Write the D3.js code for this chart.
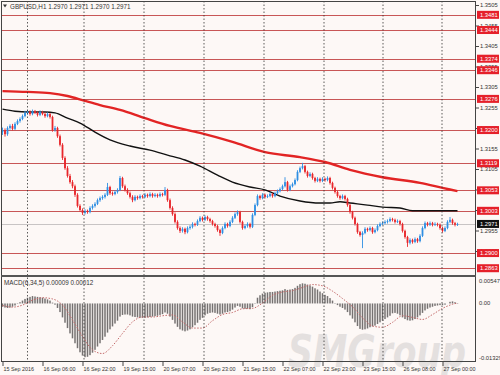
<!DOCTYPE html>
<html>
<head>
<meta charset="utf-8">
<script src="https://cdn.jsdelivr.net/npm/d3@7/dist/d3.min.js"></script>
<style>
body { margin: 0; background: #fff; }
svg { display: block; font-family: 'Liberation Sans', 'DejaVu Sans', sans-serif; }
</style>
</head>
<body>
<svg id="chart" width="500" height="375"></svg>
<script>
var symbolText = 'GBPUSD,H1  1.2970 1.2971 1.2970 1.2971';
var macdText = 'MACD(6,34,5) 0.00009 0.00012';

// H1 bars, [open, high, low, close]
var candles = [
  [1.3195,1.3206,1.3188,1.3200],[1.3200,1.3204,1.3184,1.3190],[1.3190,1.3209,1.3186,1.3205],[1.3205,1.3214,1.3201,1.3210],
  [1.3210,1.3215,1.3199,1.3203],[1.3203,1.3219,1.3200,1.3215],[1.3215,1.3226,1.3212,1.3222],[1.3222,1.3231,1.3218,1.3227],
  [1.3227,1.3238,1.3224,1.3234],[1.3234,1.3247,1.3231,1.3242],[1.3242,1.3249,1.3238,1.3244],[1.3244,1.3248,1.3235,1.3239],
  [1.3239,1.3250,1.3236,1.3246],[1.3246,1.3249,1.3239,1.3242],[1.3242,1.3245,1.3233,1.3237],[1.3237,1.3248,1.3234,1.3244],
  [1.3244,1.3247,1.3236,1.3239],[1.3239,1.3243,1.3230,1.3234],[1.3234,1.3243,1.3231,1.3239],[1.3239,1.3242,1.3228,1.3232],
  [1.3232,1.3235,1.3196,1.3200],[1.3200,1.3210,1.3196,1.3205],[1.3205,1.3208,1.3181,1.3185],[1.3185,1.3189,1.3160,1.3164],
  [1.3164,1.3168,1.3127,1.3132],[1.3132,1.3136,1.3103,1.3107],[1.3107,1.3112,1.3084,1.3088],[1.3088,1.3093,1.3069,1.3073],
  [1.3073,1.3078,1.3058,1.3063],[1.3063,1.3067,1.3037,1.3042],[1.3042,1.3046,1.3011,1.3015],[1.3015,1.3019,1.3001,1.3005],
  [1.3005,1.3009,1.2993,1.2998],[1.2998,1.3007,1.2994,1.3003],[1.3003,1.3006,1.2996,1.3000],[1.3000,1.3014,1.2997,1.3010],
  [1.3010,1.3019,1.3006,1.3015],[1.3015,1.3024,1.3011,1.3020],[1.3020,1.3033,1.3017,1.3029],[1.3029,1.3038,1.3025,1.3034],
  [1.3034,1.3041,1.3030,1.3037],[1.3037,1.3046,1.3033,1.3042],[1.3042,1.3071,1.3039,1.3061],[1.3061,1.3064,1.3042,1.3046],
  [1.3046,1.3050,1.3040,1.3044],[1.3044,1.3053,1.3041,1.3049],[1.3049,1.3058,1.3045,1.3054],[1.3054,1.3088,1.3051,1.3083],
  [1.3083,1.3086,1.3059,1.3063],[1.3063,1.3067,1.3050,1.3054],[1.3054,1.3058,1.3042,1.3046],[1.3046,1.3050,1.3033,1.3037],
  [1.3037,1.3041,1.3024,1.3029],[1.3029,1.3041,1.3026,1.3037],[1.3037,1.3040,1.3030,1.3034],[1.3034,1.3043,1.3031,1.3039],
  [1.3039,1.3042,1.3033,1.3037],[1.3037,1.3046,1.3034,1.3042],[1.3042,1.3045,1.3035,1.3039],[1.3039,1.3048,1.3036,1.3044],
  [1.3044,1.3047,1.3035,1.3039],[1.3039,1.3046,1.3036,1.3042],[1.3042,1.3045,1.3035,1.3039],[1.3039,1.3048,1.3036,1.3044],
  [1.3044,1.3047,1.3038,1.3042],[1.3042,1.3061,1.3039,1.3054],[1.3054,1.3057,1.3025,1.3029],[1.3029,1.3033,1.3006,1.3010],
  [1.3010,1.3014,1.2991,1.2995],[1.2995,1.2999,1.2972,1.2976],[1.2976,1.2980,1.2957,1.2961],[1.2961,1.2965,1.2949,1.2954],
  [1.2954,1.2963,1.2950,1.2959],[1.2959,1.2962,1.2946,1.2951],[1.2951,1.2965,1.2948,1.2961],[1.2961,1.2968,1.2957,1.2964],
  [1.2964,1.2975,1.2960,1.2971],[1.2971,1.2974,1.2965,1.2969],[1.2969,1.2982,1.2966,1.2978],[1.2978,1.2990,1.2975,1.2986],
  [1.2986,1.2989,1.2977,1.2981],[1.2981,1.2992,1.2978,1.2988],[1.2988,1.2991,1.2979,1.2983],[1.2983,1.2986,1.2974,1.2978],
  [1.2978,1.2981,1.2967,1.2971],[1.2971,1.2974,1.2962,1.2966],[1.2966,1.2969,1.2952,1.2956],[1.2956,1.2959,1.2942,1.2949],
  [1.2949,1.2965,1.2946,1.2961],[1.2961,1.2975,1.2958,1.2971],[1.2971,1.2974,1.2962,1.2966],[1.2966,1.2980,1.2963,1.2976],
  [1.2976,1.2990,1.2973,1.2986],[1.2986,1.2999,1.2983,1.2995],[1.2995,1.3004,1.2991,1.3000],[1.3000,1.3003,1.2972,1.2976],
  [1.2976,1.2979,1.2957,1.2961],[1.2961,1.2970,1.2958,1.2966],[1.2966,1.2975,1.2962,1.2971],[1.2971,1.2974,1.2960,1.2964],
  [1.2964,1.2997,1.2961,1.2993],[1.2993,1.3021,1.2990,1.3017],[1.3017,1.3043,1.3014,1.3039],[1.3039,1.3042,1.3030,1.3034],
  [1.3034,1.3046,1.3031,1.3042],[1.3042,1.3045,1.3033,1.3037],[1.3037,1.3043,1.3034,1.3039],[1.3039,1.3048,1.3036,1.3044],
  [1.3044,1.3047,1.3035,1.3039],[1.3039,1.3050,1.3036,1.3046],[1.3046,1.3055,1.3043,1.3051],[1.3051,1.3060,1.3048,1.3056],
  [1.3056,1.3067,1.3053,1.3063],[1.3063,1.3085,1.3060,1.3073],[1.3073,1.3076,1.3050,1.3054],[1.3054,1.3067,1.3051,1.3063],
  [1.3063,1.3072,1.3060,1.3068],[1.3068,1.3082,1.3065,1.3078],[1.3078,1.3102,1.3075,1.3098],[1.3098,1.3111,1.3095,1.3107],
  [1.3107,1.3120,1.3104,1.3112],[1.3112,1.3115,1.3094,1.3098],[1.3098,1.3101,1.3084,1.3088],[1.3088,1.3097,1.3085,1.3093],
  [1.3093,1.3096,1.3079,1.3083],[1.3083,1.3086,1.3072,1.3076],[1.3076,1.3085,1.3073,1.3081],[1.3081,1.3084,1.3072,1.3076],
  [1.3076,1.3085,1.3073,1.3081],[1.3081,1.3084,1.3074,1.3078],[1.3078,1.3087,1.3075,1.3083],[1.3083,1.3086,1.3067,1.3071],
  [1.3071,1.3074,1.3055,1.3059],[1.3059,1.3062,1.3045,1.3049],[1.3049,1.3052,1.3035,1.3039],[1.3039,1.3042,1.3030,1.3034],
  [1.3034,1.3043,1.3031,1.3039],[1.3039,1.3042,1.3028,1.3032],[1.3032,1.3035,1.3013,1.3017],[1.3017,1.3020,1.2996,1.3000],
  [1.3000,1.3003,1.2982,1.2986],[1.2986,1.2989,1.2967,1.2971],[1.2971,1.2974,1.2947,1.2951],[1.2951,1.2954,1.2940,1.2944],
  [1.2944,1.2953,1.2912,1.2949],[1.2949,1.2963,1.2946,1.2959],[1.2959,1.2962,1.2952,1.2956],[1.2956,1.2965,1.2953,1.2961],
  [1.2961,1.2964,1.2947,1.2951],[1.2951,1.2960,1.2948,1.2956],[1.2956,1.2970,1.2953,1.2966],[1.2966,1.2975,1.2963,1.2971],
  [1.2971,1.2977,1.2968,1.2973],[1.2973,1.2980,1.2970,1.2976],[1.2976,1.2982,1.2972,1.2978],[1.2978,1.2987,1.2975,1.2983],
  [1.2983,1.2986,1.2977,1.2981],[1.2981,1.2984,1.2972,1.2976],[1.2976,1.2982,1.2973,1.2978],[1.2978,1.2981,1.2967,1.2971],
  [1.2971,1.2974,1.2950,1.2954],[1.2954,1.2957,1.2935,1.2939],[1.2939,1.2942,1.2915,1.2925],[1.2925,1.2936,1.2921,1.2932],
  [1.2932,1.2935,1.2923,1.2927],[1.2927,1.2938,1.2924,1.2934],[1.2934,1.2937,1.2925,1.2929],[1.2929,1.2946,1.2926,1.2942],
  [1.2942,1.2965,1.2939,1.2961],[1.2961,1.2977,1.2958,1.2973],[1.2973,1.2976,1.2965,1.2969],[1.2969,1.2977,1.2966,1.2973],
  [1.2973,1.2976,1.2965,1.2969],[1.2969,1.2975,1.2966,1.2971],[1.2971,1.2974,1.2965,1.2969],[1.2969,1.2972,1.2957,1.2961],
  [1.2961,1.2964,1.2950,1.2954],[1.2954,1.2965,1.2951,1.2961],[1.2961,1.2980,1.2958,1.2976],[1.2976,1.2988,1.2973,1.2981],
  [1.2981,1.2984,1.2969,1.2973],[1.2973,1.2976,1.2965,1.2969],[1.2969,1.2974,1.2966,1.2971]
];

var macdHist = [
  -0.0008,-0.0010,-0.0011,-0.0010,-0.0008,-0.0005,-0.0001,0.0003,0.0007,0.0011,
  0.0014,0.0016,0.0018,0.0017,0.0016,0.0015,0.0014,0.0012,0.0010,0.0007,
  0.0002,-0.0003,-0.0011,-0.0021,-0.0034,-0.0047,-0.0060,-0.0073,-0.0085,-0.0097,
  -0.0109,-0.0119,-0.0127,-0.0131,-0.0130,-0.0126,-0.0120,-0.0113,-0.0105,-0.0097,
  -0.0089,-0.0081,-0.0071,-0.0063,-0.0056,-0.0049,-0.0042,-0.0032,-0.0028,-0.0027,
  -0.0027,-0.0029,-0.0032,-0.0033,-0.0034,-0.0035,-0.0035,-0.0035,-0.0034,-0.0033,
  -0.0032,-0.0031,-0.0030,-0.0028,-0.0026,-0.0022,-0.0025,-0.0032,-0.0040,-0.0049,
  -0.0057,-0.0063,-0.0066,-0.0068,-0.0066,-0.0063,-0.0058,-0.0053,-0.0047,-0.0040,
  -0.0035,-0.0029,-0.0025,-0.0023,-0.0022,-0.0023,-0.0025,-0.0027,-0.0025,-0.0022,
  -0.0021,-0.0019,-0.0015,-0.0010,-0.0006,-0.0008,-0.0012,-0.0013,-0.0013,-0.0014,
  -0.0009,0.0001,0.0014,0.0020,0.0024,0.0026,0.0027,0.0028,0.0028,0.0029,
  0.0030,0.0031,0.0032,0.0035,0.0033,0.0034,0.0035,0.0038,0.0043,0.0047,
  0.0049,0.0048,0.0046,0.0044,0.0041,0.0037,0.0034,0.0029,0.0025,0.0021,
  0.0018,0.0013,0.0007,0.0001,-0.0004,-0.0008,-0.0011,-0.0015,-0.0021,-0.0029,
  -0.0037,-0.0046,-0.0055,-0.0062,-0.0064,-0.0063,-0.0061,-0.0058,-0.0056,-0.0054,
  -0.0050,-0.0046,-0.0042,-0.0038,-0.0034,-0.0030,-0.0024,-0.0023,-0.0025,-0.0029,
  -0.0034,-0.0038,-0.0041,-0.0042,-0.0041,-0.0038,-0.0034,-0.0029,-0.0023,-0.0017,
  -0.0013,-0.0010,-0.0008,-0.0006,-0.0005,-0.0004,-0.0004,-0.0003,0.0000,0.0004,
  0.0005,0.0003,0.0001
];

// signal line read at sample bars [bar, value]
var macdSignal = [
  [0,-0.0005],[4,-0.0009],[8,-0.0004],[12,0.0008],[16,0.0014],[20,0.0011],[24,-0.0004],
  [28,-0.0040],[32,-0.0080],[36,-0.0113],[40,-0.0122],[44,-0.0103],[48,-0.0073],[52,-0.0045],
  [56,-0.0033],[60,-0.0033],[64,-0.0030],[68,-0.0028],[72,-0.0045],[76,-0.0060],[80,-0.0060],
  [84,-0.0042],[88,-0.0027],[92,-0.0022],[96,-0.0013],[100,-0.0012],[104,0.0001],[108,0.0020],
  [112,0.0028],[116,0.0031],[120,0.0039],[124,0.0046],[128,0.0043],[132,0.0030],[136,0.0012],
  [140,-0.0008],[144,-0.0035],[148,-0.0055],[152,-0.0058],[156,-0.0046],[160,-0.0030],[164,-0.0034],
  [168,-0.0039],[172,-0.0027],[176,-0.0012],[180,-0.0002],[182,0.0001]
];

var maRed = [
  [0,1.3295],[10,1.3293],[19,1.3290],[26,1.3283],[33,1.3271],[39,1.3261],[47,1.3249],
  [57,1.3229],[67,1.3210],[79,1.3193],[92,1.3171],[105,1.3146],[119,1.3134],[129,1.3122],
  [139,1.3103],[152,1.3085],[167,1.3071],[176,1.3059],[182,1.3051]
];
var maBlack = [
  [0,1.3251],[5,1.3246],[10,1.3244],[17,1.3244],[21,1.3242],[26,1.3229],[31,1.3217],
  [37,1.3195],[43,1.3176],[51,1.3161],[59,1.3151],[66,1.3139],[73,1.3127],[79,1.3112],
  [86,1.3090],[92,1.3073],[99,1.3061],[105,1.3054],[111,1.3039],[119,1.3027],[127,1.3022],
  [131,1.3022],[135,1.3025],[139,1.3022],[146,1.3017],[152,1.3012],[159,1.3010],[164,1.3003],[182,1.3003]
];

var levels = [1.3481, 1.3444, 1.3374, 1.3346, 1.3276, 1.3200, 1.3119, 1.3053, 1.3003, 1.2900, 1.2863];
var priceTicks = [1.3505, 1.3455, 1.3405, 1.3355, 1.3305, 1.3255, 1.3205, 1.3155, 1.3105, 1.3055, 1.3005, 1.2955, 1.2905];
var lastPrice = 1.2971;
var macdTicks = [0.00547, 0, -0.01329];
var macdTickLabels = ['0.00547', '0.00', '-0.01329'];
var dateBars = [0, 16, 32, 48, 64, 80, 96, 112, 128, 144, 160, 176];
var dateLabels = ['15 Sep 2016', '16 Sep 06:00', '16 Sep 22:00', '19 Sep 15:00', '20 Sep 07:00', '20 Sep 23:00',
  '21 Sep 15:00', '22 Sep 07:00', '22 Sep 23:00', '23 Sep 15:00', '26 Sep 08:00', '27 Sep 00:00'];
var separatorBars = [10, 32.6, 56.6, 80.6, 104.6, 128.6, 152.2, 175.8];

var svg = d3.select('#chart');
var left = 1, right = 476, mainTop = 1, mainBottom = 275, macdTop = 277, macdBottom = 362;
var bg = '#fdf8f6';
var upColor = '#2f8fe3';
var downColor = '#e8262b';
var levelColor = '#c85656';
var labelFont = 'Liberation Sans, sans-serif';

var xScale = d3.scaleLinear().domain([0, 182]).range([2.5, 457.5]);
var yPrice = d3.scaleLinear().domain([1.2855, 1.3505]).range([271.5, 5]);
var yMacd = d3.scaleLinear().domain([-0.01329, 0.00547]).range([358, 281]);

svg.append('rect').attr('width', 500).attr('height', 375).attr('fill', bg);

var defs = svg.append('defs');
defs.append('clipPath').attr('id', 'clipMain').append('rect')
  .attr('x', left).attr('y', mainTop).attr('width', right - left).attr('height', mainBottom - mainTop);
defs.append('clipPath').attr('id', 'clipMacd').append('rect')
  .attr('x', left).attr('y', macdTop).attr('width', right - left).attr('height', macdBottom - macdTop);

// watermark sits under the marks
svg.append('text').attr('x', 288).attr('y', 367)
  .attr('font-size', 44).attr('font-style', 'italic').attr('font-weight', 'bold')
  .attr('font-family', 'DejaVu Sans, sans-serif')
  .attr('textLength', 178).attr('lengthAdjust', 'spacingAndGlyphs')
  .attr('fill', '#e4e0df')
  .text('SMGroup');

var mainGroup = svg.append('g').attr('clip-path', 'url(#clipMain)');
var macdGroup = svg.append('g').attr('clip-path', 'url(#clipMacd)');

// dotted day separators through both panels
separatorBars.forEach(function(b) {
  svg.append('line')
    .attr('x1', xScale(b)).attr('x2', xScale(b))
    .attr('y1', mainTop).attr('y2', macdBottom)
    .attr('stroke', '#333').attr('stroke-width', 0.8)
    .attr('stroke-dasharray', '1.5,2');
});

// support / resistance levels
mainGroup.selectAll('.level').data(levels).enter().append('line')
  .attr('class', 'level')
  .attr('x1', left).attr('x2', right)
  .attr('y1', function(d) { return Math.round(yPrice(d)) + 0.5; })
  .attr('y2', function(d) { return Math.round(yPrice(d)) + 0.5; })
  .attr('stroke', levelColor).attr('stroke-width', 1);

// last price line
mainGroup.append('line')
  .attr('x1', left).attr('x2', right)
  .attr('y1', Math.round(yPrice(lastPrice)) + 0.5).attr('y2', Math.round(yPrice(lastPrice)) + 0.5)
  .attr('stroke', '#c8c4c4').attr('stroke-width', 1);

// moving averages
var maLine = d3.line()
  .x(function(d) { return xScale(d[0]); })
  .y(function(d) { return yPrice(d[1]); })
  .curve(d3.curveMonotoneX);
mainGroup.append('path').datum(maBlack)
  .attr('d', maLine).attr('fill', 'none')
  .attr('stroke', '#111').attr('stroke-width', 1.4);
mainGroup.append('path').datum(maRed)
  .attr('d', maLine).attr('fill', 'none')
  .attr('stroke', '#e22424').attr('stroke-width', 2.4);

// candles
var candleGroups = mainGroup.selectAll('.candle').data(candles).enter().append('g')
  .attr('class', 'candle');
candleGroups.append('line')
  .attr('x1', function(d, i) { return xScale(i); })
  .attr('x2', function(d, i) { return xScale(i); })
  .attr('y1', function(d) { return yPrice(d[1]); })
  .attr('y2', function(d) { return yPrice(d[2]); })
  .attr('stroke', function(d) { return d[3] >= d[0] ? upColor : downColor; })
  .attr('stroke-width', 0.9);
candleGroups.append('rect')
  .attr('x', function(d, i) { return xScale(i) - 0.9; })
  .attr('width', 1.8)
  .attr('y', function(d) { return yPrice(Math.max(d[0], d[3])); })
  .attr('height', function(d) { return Math.max(0.8, Math.abs(yPrice(d[0]) - yPrice(d[3]))); })
  .attr('fill', function(d) { return d[3] >= d[0] ? upColor : downColor; });

// MACD histogram
macdGroup.selectAll('.hist').data(macdHist).enter().append('rect')
  .attr('class', 'hist')
  .attr('x', function(d, i) { return xScale(i) - 0.75; })
  .attr('width', 1.5)
  .attr('y', function(d) { return Math.min(yMacd(d), yMacd(0)); })
  .attr('height', function(d) { return Math.abs(yMacd(d) - yMacd(0)); })
  .attr('fill', '#767272');

var sigLine = d3.line()
  .x(function(d) { return xScale(d[0]); })
  .y(function(d) { return yMacd(d[1]); })
  .curve(d3.curveMonotoneX);
macdGroup.append('path').datum(macdSignal)
  .attr('d', sigLine).attr('fill', 'none')
  .attr('stroke', '#c46a6a').attr('stroke-width', 1)
  .attr('stroke-dasharray', '1.5,1.5');

// panel frames
svg.append('rect').attr('x', left + 0.5).attr('y', mainTop + 0.5)
  .attr('width', right - left - 1).attr('height', mainBottom - mainTop)
  .attr('fill', 'none').attr('stroke', '#444').attr('stroke-width', 1);
svg.append('rect').attr('x', left + 0.5).attr('y', macdTop - 0.5)
  .attr('width', right - left - 1).attr('height', macdBottom - macdTop)
  .attr('fill', 'none').attr('stroke', '#444').attr('stroke-width', 1);
svg.append('line').attr('x1', left).attr('x2', right).attr('y1', 276).attr('y2', 276)
  .attr('stroke', '#555').attr('stroke-width', 2);

// price axis
var yAxis = d3.axisRight(yPrice).tickValues(priceTicks).tickSize(3).tickPadding(1)
  .tickFormat(d3.format('.4f'));
var yAxisGroup = svg.append('g').attr('transform', 'translate(' + right + ',0)').call(yAxis);
yAxisGroup.select('.domain').remove();
yAxisGroup.selectAll('line').attr('stroke', '#444');
yAxisGroup.selectAll('text').attr('font-size', 5.8).attr('fill', '#333').attr('font-family', labelFont);

var levelLabels = svg.selectAll('.levelLabel').data(levels).enter().append('g')
  .attr('class', 'levelLabel')
  .attr('transform', function(d) { return 'translate(' + (right + 1) + ',' + yPrice(d) + ')'; });
levelLabels.append('rect').attr('x', 0).attr('y', -4).attr('width', 22).attr('height', 8).attr('fill', '#e5202a');
levelLabels.append('text').attr('x', 3).attr('y', 2.1)
  .attr('font-size', 5.8).attr('fill', '#fff').attr('font-family', labelFont)
  .text(function(d) { return d3.format('.4f')(d); });

var lastLabel = svg.append('g').attr('transform', 'translate(' + (right + 1) + ',' + yPrice(lastPrice) + ')');
lastLabel.append('rect').attr('x', 0).attr('y', -4).attr('width', 22).attr('height', 8).attr('fill', '#111');
lastLabel.append('text').attr('x', 3).attr('y', 2.1).attr('font-size', 5.8).attr('fill', '#fff')
  .attr('font-family', labelFont)
  .text(d3.format('.4f')(lastPrice));

// MACD axis
svg.selectAll('.macdTick').data(macdTicks).enter().append('text')
  .attr('class', 'macdTick')
  .attr('x', right + 3)
  .attr('y', function(d) { return yMacd(d) + 2; })
  .attr('font-size', 5.8).attr('fill', '#333').attr('font-family', labelFont)
  .text(function(d, i) { return macdTickLabels[i]; });

// time axis
var xAxis = d3.axisBottom(xScale).tickValues(dateBars).tickSize(4).tickPadding(1)
  .tickFormat(function(d, i) { return dateLabels[i]; });
var xAxisGroup = svg.append('g').attr('transform', 'translate(0,' + macdBottom + ')').call(xAxis);
xAxisGroup.select('.domain').remove();
xAxisGroup.selectAll('line').attr('stroke', '#444');
xAxisGroup.selectAll('text').attr('font-size', 5.4).attr('fill', '#333')
  .attr('text-anchor', 'start').attr('dx', 0.5)
  .attr('font-family', labelFont);

// header and indicator captions
svg.append('path').attr('d', 'M3,4.5 L7,4.5 L5,7.5 Z').attr('fill', '#333');
svg.append('text').attr('x', 10).attr('y', 8.5).attr('font-size', 6.3).attr('fill', '#333')
  .attr('font-family', labelFont).text(symbolText);
svg.append('text').attr('x', 4).attr('y', 285).attr('font-size', 6.3).attr('fill', '#333')
  .attr('font-family', labelFont).text(macdText);
</script>
</body>
</html>
